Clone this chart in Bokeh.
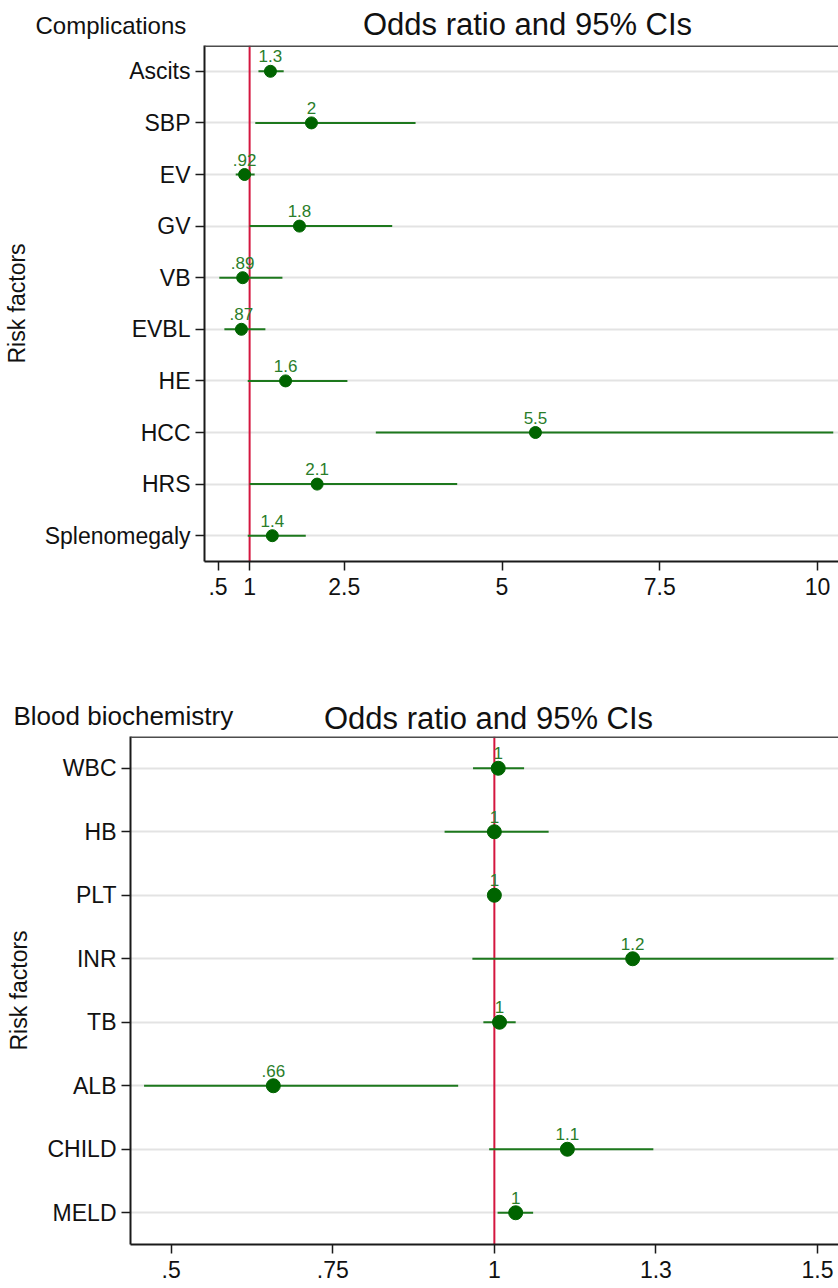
from bokeh.plotting import figure
from bokeh.models import Range1d, FixedTicker, Span
from bokeh.core.properties import value
from bokeh.embed import file_html
from bokeh.resources import INLINE

# ---------------- data ----------------
comp_names = ["Ascits", "SBP", "EV", "GV", "VB", "EVBL", "HE", "HCC", "HRS", "Splenomegaly"]
comp_or = [1.33, 1.98, 0.92, 1.79, 0.89, 0.87, 1.57, 5.53, 2.07, 1.36]
comp_lo = [1.14, 1.09, 0.78, 1.00, 0.52, 0.60, 0.97, 3.00, 1.00, 0.97]
comp_hi = [1.54, 3.63, 1.08, 3.26, 1.52, 1.25, 2.55, 10.25, 4.29, 1.89]
comp_lab = ["1.3", "2", ".92", "1.8", ".89", ".87", "1.6", "5.5", "2.1", "1.4"]
comp_xticks = [0.5, 1, 2.5, 5, 7.5, 10]
comp_xlabels = [".5", "1", "2.5", "5", "7.5", "10"]

bio_names = ["WBC", "HB", "PLT", "INR", "TB", "ALB", "CHILD", "MELD"]
bio_or = [1.006, 1.000, 1.000, 1.214, 1.008, 0.658, 1.113, 1.033]
bio_lo = [0.967, 0.923, 0.997, 0.966, 0.983, 0.458, 0.992, 1.005]
bio_hi = [1.046, 1.084, 1.003, 1.525, 1.033, 0.944, 1.246, 1.060]
bio_lab = ["1", "1", "1", "1.2", "1", ".66", "1.1", "1"]
bio_xticks = [0.5, 0.75, 1, 1.25, 1.5]
bio_xlabels = [".5", ".75", "1", "1.3", "1.5"]

FONT = "Liberation Sans"
DOT = "#006400"
LINE = "#1d781d"
LAB = "#2a7d2a"
RED = "#d4163f"
W = 838


def header(height, subtitle, sub_size, sub_x, sub_y, title_x, title_y):
    h = figure(width=W, height=height, title=None, x_range=Range1d(0, W),
               y_range=Range1d(height, 0), x_axis_type=None, y_axis_type=None,
               output_backend="svg", toolbar_location=None, min_border=0)
    h.outline_line_color = None
    h.grid.visible = False
    h.text(x=[sub_x], y=[sub_y], text=[subtitle], text_align="left", text_baseline="middle",
           text_font=value(FONT), text_font_size=sub_size, text_color="#111111")
    h.text(x=[title_x], y=[title_y], text=["Odds ratio and 95% CIs"], text_align="center",
           text_baseline="middle", text_font=value(FONT), text_font_size="31px",
           text_color="#111111")
    return h


def panel(names, ors, los, his, labs, xticks, xlabels, xr, height, mb_left, mb_bottom, dot_size):
    n = len(names)
    pos = list(range(1, n + 1))
    p = figure(width=W, height=height, title=None,
               x_range=Range1d(*xr), y_range=Range1d(n + 0.5, 0.5),
               output_backend="svg", toolbar_location=None,
               min_border_left=mb_left, min_border_right=0,
               min_border_top=0, min_border_bottom=mb_bottom)
    p.background_fill_color = "white"
    p.border_fill_color = "white"
    p.outline_line_color = None

    p.xgrid.visible = False
    p.ygrid.grid_line_color = "#e3e3e3"
    p.ygrid.grid_line_width = 2

    p.xaxis.ticker = FixedTicker(ticks=xticks)
    p.xaxis.major_label_overrides = {t: l for t, l in zip(xticks, xlabels)}
    p.yaxis.ticker = FixedTicker(ticks=pos)
    p.yaxis.major_label_overrides = {i: nm for i, nm in zip(pos, names)}
    for ax in (p.xaxis, p.yaxis):
        ax.axis_line_color = "#1a1a1a"
        ax.axis_line_width = 2
        ax.major_tick_line_color = "#1a1a1a"
        ax.major_tick_line_width = 1.5
        ax.major_tick_out = 9
        ax.major_tick_in = 0
        ax.minor_tick_out = 0
        ax.minor_tick_in = 0
        ax.major_label_text_font = FONT
        ax.major_label_text_font_size = "23px"
        ax.major_label_text_color = "#111111"
    p.xaxis.major_label_standoff = 7
    p.yaxis.major_label_standoff = 5
    p.yaxis.axis_label = "Risk factors"
    p.yaxis.axis_label_text_font = FONT
    p.yaxis.axis_label_text_font_size = "23px"
    p.yaxis.axis_label_text_font_style = "normal"
    p.yaxis.axis_label_text_color = "#111111"
    p.yaxis.axis_label_standoff = 12

    # top border of the plot region
    p.add_layout(Span(location=0.5, dimension="width", line_color="#4d4d4d", line_width=3))
    # reference line at OR = 1
    p.add_layout(Span(location=1, dimension="height", line_color=RED, line_width=2, level="underlay"))

    p.segment(x0=los, y0=pos, x1=his, y1=pos, line_color=LINE, line_width=2)
    p.scatter(x=ors, y=pos, size=dot_size, fill_color=DOT, line_color=DOT)
    p.text(x=ors, y=pos, text=labs, text_align="center", text_baseline="middle",
           y_offset=-15, text_font_size="17px", text_color=LAB, text_font=value(FONT))
    return p


h1 = header(45, "Complications", "24px", 35, 25, 527, 24)
top = panel(comp_names, comp_or, comp_lo, comp_hi, comp_lab, comp_xticks, comp_xlabels,
            (0.285, 10.333), 558, 204, 42, 12)
h2 = header(133, "Blood biochemistry", "26px", 13, 112, 488, 115)
bot = panel(bio_names, bio_or, bio_lo, bio_hi, bio_lab, bio_xticks, bio_xlabels,
            (0.437, 1.5325), 550, 130, 42, 14)

open("out.html", "w").write(file_html([h1, top, h2, bot], INLINE))
